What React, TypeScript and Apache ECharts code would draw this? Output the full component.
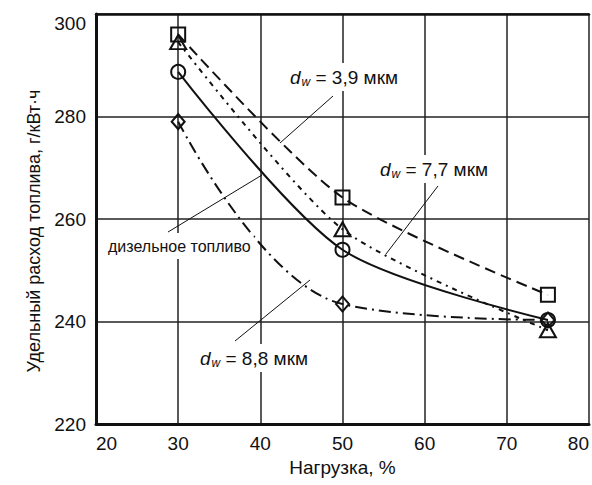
import React, { useEffect, useRef } from "react";
import * as echarts from "echarts";

// Load, %
const loadValues = [30, 50, 75];
// Specific fuel consumption, g/kWh
const dw39 = [296, 264.2, 245.2]; // squares, d_w = 3,9 мкм
const dw77 = [294.5, 258, 238.3]; // triangles, d_w = 7,7 мкм
const diesel = [288.7, 254, 240.3]; // circles, дизельное топливо
const dw88 = [279, 243.4, 240.3]; // diamonds, d_w = 8,8 мкм

const xTicks = { min: 20, max: 80, step: 10 };
const yTicks = { min: 220, max: 300, step: 20 };

const FONT = "'Liberation Sans', Arial, Helvetica, sans-serif";
const INK = "#111";

function mk(values: number[]) {
  return loadValues.map((x, i) => [x, values[i]]);
}

function dwLabel(x: number, y: number, val: string) {
  return {
    type: "text",
    x,
    y,
    z: 100,
    style: {
      text: `{i|d}{s|w}{n| = ${val} мкм}`,
      rich: {
        i: { fontStyle: "italic", fontSize: 19, fontFamily: FONT, fill: INK },
        s: { fontStyle: "italic", fontSize: 12, fontFamily: FONT, fill: INK, padding: [10, 0, 0, 1] },
        n: { fontSize: 19, fontFamily: FONT, fill: INK },
      },
      align: "left",
      verticalAlign: "middle",
      backgroundColor: "#fff",
      padding: [3, 3, 3, 3],
    },
  };
}

function leader(x1: number, y1: number, x2: number, y2: number) {
  return {
    type: "line",
    z: 90,
    shape: { x1, y1, x2, y2 },
    style: { stroke: INK, lineWidth: 1 },
  };
}

export default function App() {
  const ref = useRef<HTMLDivElement>(null);
  useEffect(() => {
    if (!ref.current) return;
    const chart = echarts.init(ref.current, undefined, { renderer: "svg" });
    const markerStyle = {
      color: "rgba(255,255,255,0)",
      borderColor: INK,
      borderWidth: 2,
    };
    chart.setOption({
      animation: false,
      backgroundColor: "#fff",
      grid: { left: 96, right: 2, top: 14, bottom: 61 },
      xAxis: [
        {
          type: "value",
          min: xTicks.min,
          max: xTicks.max,
          interval: xTicks.step,
          name: "Нагрузка, %",
          nameLocation: "middle",
          nameGap: 34,
          nameTextStyle: { fontSize: 19, color: INK, fontFamily: FONT },
          axisLine: { show: true, lineStyle: { color: INK, width: 3 } },
          axisTick: { show: false },
          axisLabel: {
            fontSize: 19,
            color: INK,
            fontFamily: FONT,
            margin: 10,
            alignMinLabel: "left",
            alignMaxLabel: "right",
          },
          splitLine: { show: true, lineStyle: { color: "#222", width: 1.5 } },
        },
        {
          type: "value",
          position: "top",
          min: xTicks.min,
          max: xTicks.max,
          interval: xTicks.step,
          axisLine: { show: true, lineStyle: { color: INK, width: 2.5 } },
          axisTick: { show: false },
          axisLabel: { show: false },
          splitLine: { show: false },
        },
      ],
      yAxis: {
        type: "value",
        min: yTicks.min,
        max: yTicks.max,
        interval: yTicks.step,
        name: "Удельный расход топлива, г/кВт·ч",
        nameLocation: "middle",
        nameGap: 47,
        nameTextStyle: { fontSize: 18, color: INK, fontFamily: FONT, padding: [0, 24, 0, 0] },
        axisLine: { show: true, lineStyle: { color: INK, width: 3 } },
        axisTick: { show: false },
        axisLabel: {
          fontSize: 19,
          color: INK,
          fontFamily: FONT,
          margin: 10,
          formatter: (v: number) => (v === yTicks.max ? `{top|${v}}` : `${v}`),
          rich: {
            top: { fontSize: 19, color: INK, fontFamily: FONT, padding: [18, 0, 0, 0] },
          },
        },
        splitLine: { show: true, lineStyle: { color: "#222", width: 1.5 } },
      },
      series: [
        {
          type: "line",
          name: "d_w = 3,9 мкм",
          data: mk(dw39),
          smooth: 0.25,
          symbol: "rect",
          symbolSize: 14,
          itemStyle: markerStyle,
          lineStyle: { color: INK, width: 2, type: [11, 6] },
          z: 5,
        },
        {
          type: "line",
          name: "d_w = 7,7 мкм",
          data: mk(dw77),
          smooth: 0.25,
          symbol: "triangle",
          symbolSize: [16, 14],
          itemStyle: markerStyle,
          lineStyle: { color: INK, width: 2, type: [5, 5, 2, 5] },
          z: 5,
        },
        {
          type: "line",
          name: "дизельное топливо",
          data: mk(diesel),
          smooth: 0.28,
          symbol: "circle",
          symbolSize: 14,
          itemStyle: markerStyle,
          lineStyle: { color: INK, width: 2 },
          z: 5,
        },
        {
          type: "line",
          name: "d_w = 8,8 мкм",
          data: mk(dw88),
          smooth: 0.4,
          symbol: "diamond",
          symbolSize: [13, 15],
          itemStyle: markerStyle,
          lineStyle: { color: INK, width: 2, type: [12, 5, 2, 5] },
          z: 5,
        },
      ],
      graphic: [
        leader(333, 96, 280, 143),
        leader(438, 186, 386, 254),
        leader(168, 232, 262, 175),
        leader(235, 341, 310, 280),
        dwLabel(287, 77, "3,9"),
        dwLabel(377, 169, "7,7"),
        dwLabel(197, 358, "8,8"),
        {
          type: "text",
          x: 105,
          y: 246,
          z: 100,
          style: {
            text: "дизельное топливо",
            fontSize: 16,
            fontFamily: FONT,
            fill: INK,
            align: "left",
            verticalAlign: "middle",
            backgroundColor: "#fff",
            padding: [5, 3, 5, 3],
          },
        },
      ],
    });
    return () => chart.dispose();
  }, []);
  return (
    <div
      ref={ref}
      style={{ position: "fixed", left: 0, top: 0, width: 592, height: 485, background: "#fff" }}
    />
  );
}
